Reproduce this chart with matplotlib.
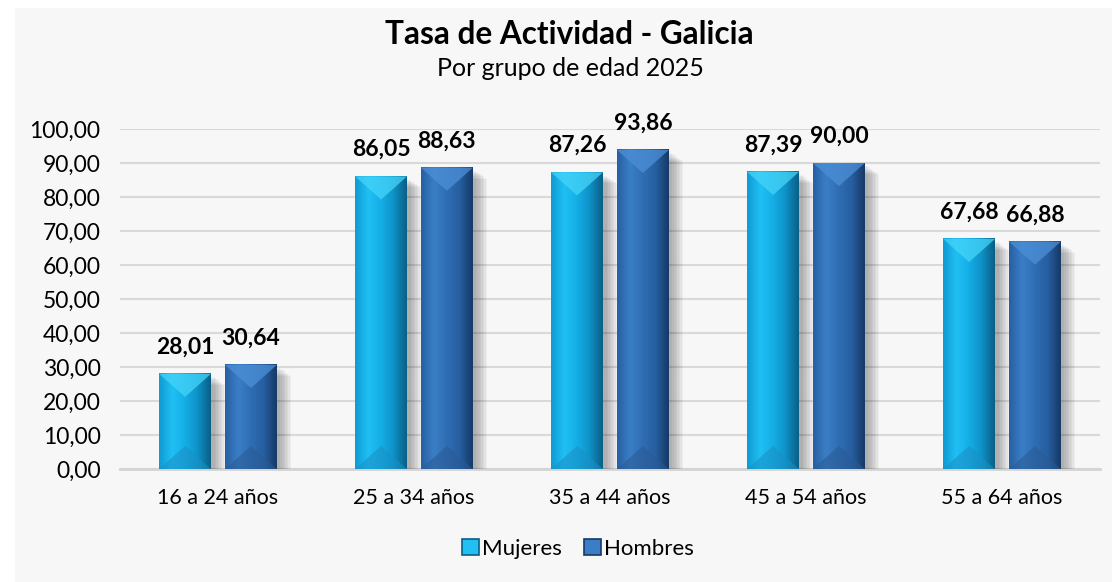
import numpy as np
import matplotlib
matplotlib.use("Agg")
import matplotlib.pyplot as plt
from matplotlib.patches import Rectangle, Polygon, Patch
from matplotlib.colors import LinearSegmentedColormap

# data
grupos = ['16 a 24 años', '25 a 34 años', '35 a 44 años', '45 a 54 años', '55 a 64 años']
mujeres = [28.01, 86.05, 87.26, 87.39, 67.68]
hombres = [30.64, 88.63, 93.86, 90.00, 66.88]
series = ['Mujeres', 'Hombres']

plt.rcParams['font.family'] = ['Lato', 'DejaVu Sans']

# face gradient (left -> right), top bevel, bottom bevel
styles = {
    'Mujeres': (['#0f9bd4', '#20c0f4', '#14aee6', '#0e92c6', '#0a5f86'], '#45d4f8', '#1a8fc4'),
    'Hombres': (['#2860a3', '#3a7fc6', '#2f6db3', '#275fa0', '#163a66'], '#4d8fd6', '#2a5a94'),
}

fig = plt.figure(figsize=(11.12, 5.82), dpi=100, facecolor='white')
fig.patches.append(Rectangle((15 / 1112, 0), 1, 1 - 8 / 582, transform=fig.transFigure,
                             facecolor='#f7f7f7', edgecolor='none', zorder=-5))
ax = fig.add_axes([120 / 1112, 1 - 469 / 582, 980 / 1112, 340 / 582])
ax.set_facecolor('#f7f7f7')

x = np.arange(len(grupos))
w = 0.265
off = 0.168
d = 6.8   # bevel depth (data units)

def draw_bar(xc, h, name):
    cols, ctop, cbot = styles[name]
    x0, x1 = xc - w / 2, xc + w / 2
    # soft shadow on the right / bottom
    for k in range(8):
        ax.add_patch(Rectangle((x0 + 0.01, -0.5 - k * 0.12), w + 0.008 * (k + 1), h - 0.5 - k * 0.2,
                               facecolor='black', alpha=0.04, edgecolor='none', zorder=2))
    cmap = LinearSegmentedColormap.from_list(name, cols)
    grad = np.linspace(0, 1, 64).reshape(1, -1)
    ax.imshow(grad, cmap=cmap, extent=(x0, x1, 0, h), aspect='auto', zorder=3,
              interpolation='bilinear')
    dd = min(d, h / 2)
    ax.add_patch(Polygon([(x0, h), (x1, h), (xc, h - dd)], closed=True,
                         facecolor=ctop, edgecolor='none', alpha=0.75, zorder=4))
    ax.add_patch(Polygon([(x0, 0), (x1, 0), (xc, dd)], closed=True,
                         facecolor=cbot, edgecolor='none', alpha=0.55, zorder=4))
    ax.text(xc, h + 4.8, f'{h:.2f}'.replace('.', ','), ha='center', va='bottom',
            fontsize=16.5, fontweight='bold', color='black', zorder=5)

for i in range(len(grupos)):
    draw_bar(x[i] - off, mujeres[i], 'Mujeres')
    draw_bar(x[i] + off, hombres[i], 'Hombres')

ax.set_xlim(-0.5, len(grupos) - 0.5)
ax.set_ylim(0, 100)
ax.set_yticks(np.arange(0, 101, 10))
ax.set_yticklabels([f'{v:.2f}'.replace('.', ',') for v in np.arange(0, 101, 10)], fontsize=16.5)
ax.set_xticks(x)
ax.set_xticklabels(grupos, fontsize=15.5)
ax.tick_params(axis='both', length=0, colors='black')
ax.tick_params(axis='y', pad=14)
ax.tick_params(axis='x', pad=14)
ax.grid(axis='y', color='#d9d9d9', linewidth=1.5, zorder=1)
ax.set_axisbelow(True)
for s in ['top', 'right', 'left']:
    ax.spines[s].set_visible(False)
ax.spines['bottom'].set_color('#d4d4d4')
ax.spines['bottom'].set_linewidth(2)
ax.spines['bottom'].set_zorder(1)

fig.text(569 / 1112, 1 - 35 / 582, 'Tasa de Actividad - Galicia', ha='center', va='center',
         fontsize=22.7, fontweight='bold')
fig.text(570 / 1112, 1 - 68 / 582, 'Por grupo de edad 2025', ha='center', va='center', fontsize=18)

handles = [Patch(facecolor=styles[n][0][1], edgecolor=styles[n][0][4], linewidth=1.2) for n in series]
fig.legend(handles, series, loc='center', bbox_to_anchor=(0.52, 1 - 549 / 582), ncol=2,
           frameon=False, fontsize=16, handlelength=0.75, handleheight=0.75,
           handletextpad=0.15, columnspacing=1.0)

fig.savefig('out.png', dpi=100, facecolor='white')
